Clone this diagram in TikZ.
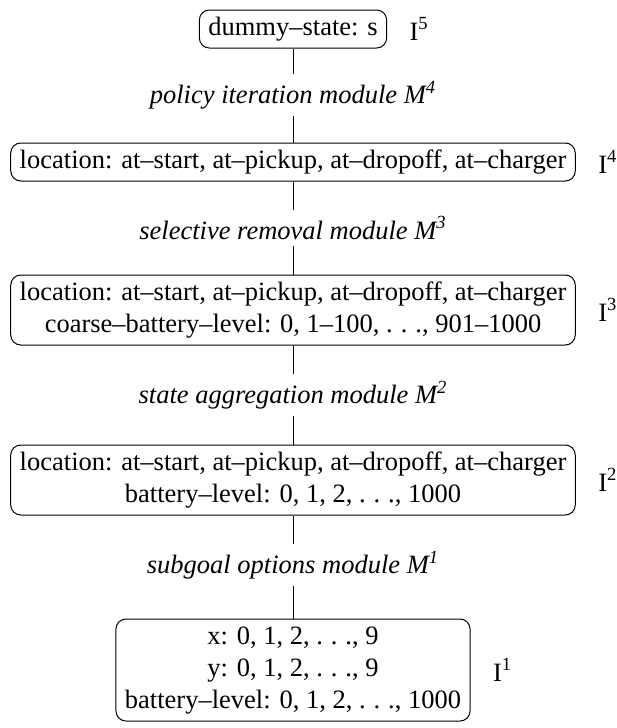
\documentclass[tikz,border=0pt]{standalone}
\usepackage{fontspec}
\setmainfont{Liberation Serif}
\newcommand{\diagfont}{\fontsize{13.25}{16}\selectfont}
\newcommand{\spdots}{.\kern0.3em.\kern0.3em.}
\tikzset{
	statebox/.style={draw, rounded corners=5pt, align=center, inner xsep=4.5pt, inner ysep=1.5pt},
	modlabel/.style={font=\diagfont\itshape, inner sep=3pt},
	levlabel/.style={anchor=west, inner sep=0pt},
}
\begin{document}
\begin{tikzpicture}[x=0.5pt, y=-0.5pt, line width=0.5pt, font=\diagfont]
		\useasboundingbox (0,0) rectangle (616,728);
		\node[statebox] (s5) at (293,29) {\strut dummy--state: s};
		\node[levlabel] (i5) at ([xshift=11pt]s5.east) {I\textsuperscript{5}};
		\node[modlabel] (m4) at (293,95) {policy iteration module M\textsuperscript{4}};
		\node[statebox] (s4) at (293,162) {\strut location: at--start, at--pickup, at--dropoff, at--charger};
		\node[levlabel] (i4) at ([xshift=11pt]s4.east) {I\textsuperscript{4}};
		\node[modlabel] (m3) at (293,228) {selective removal module M\textsuperscript{3}};
		\node[statebox] (s3) at (293,310) {\strut location: at--start, at--pickup, at--dropoff, at--charger\\
			\strut coarse--battery--level: 0, 1--100, \spdots, 901--1000};
		\node[levlabel] (i3) at ([xshift=11pt]s3.east) {I\textsuperscript{3}};
		\node[modlabel] (m2) at (293,395) {state aggregation module M\textsuperscript{2}};
		\node[statebox] (s2) at (293,480) {\strut location: at--start, at--pickup, at--dropoff, at--charger\\
			\strut battery--level: 0, 1, 2, \spdots, 1000};
		\node[levlabel] (i2) at ([xshift=11pt]s2.east) {I\textsuperscript{2}};
		\node[modlabel] (m1) at (293,565) {subgoal options module M\textsuperscript{1}};
		\node[statebox] (s1) at (293,670) {\strut x: 0, 1, 2, \spdots, 9\\
			\strut y: 0, 1, 2, \spdots, 9\\
			\strut battery--level: 0, 1, 2, \spdots, 1000};
		\node[levlabel] (i1) at ([xshift=11pt]s1.east) {I\textsuperscript{1}};
		\path[draw] (s5) -- (m4);
		\path[draw] (m4) -- (s4);
		\path[draw] (s4) -- (m3);
		\path[draw] (m3) -- (s3);
		\path[draw] (s3) -- (m2);
		\path[draw] (m2) -- (s2);
		\path[draw] (s2) -- (m1);
		\path[draw] (m1) -- (s1);
	\end{tikzpicture}
\end{document}
